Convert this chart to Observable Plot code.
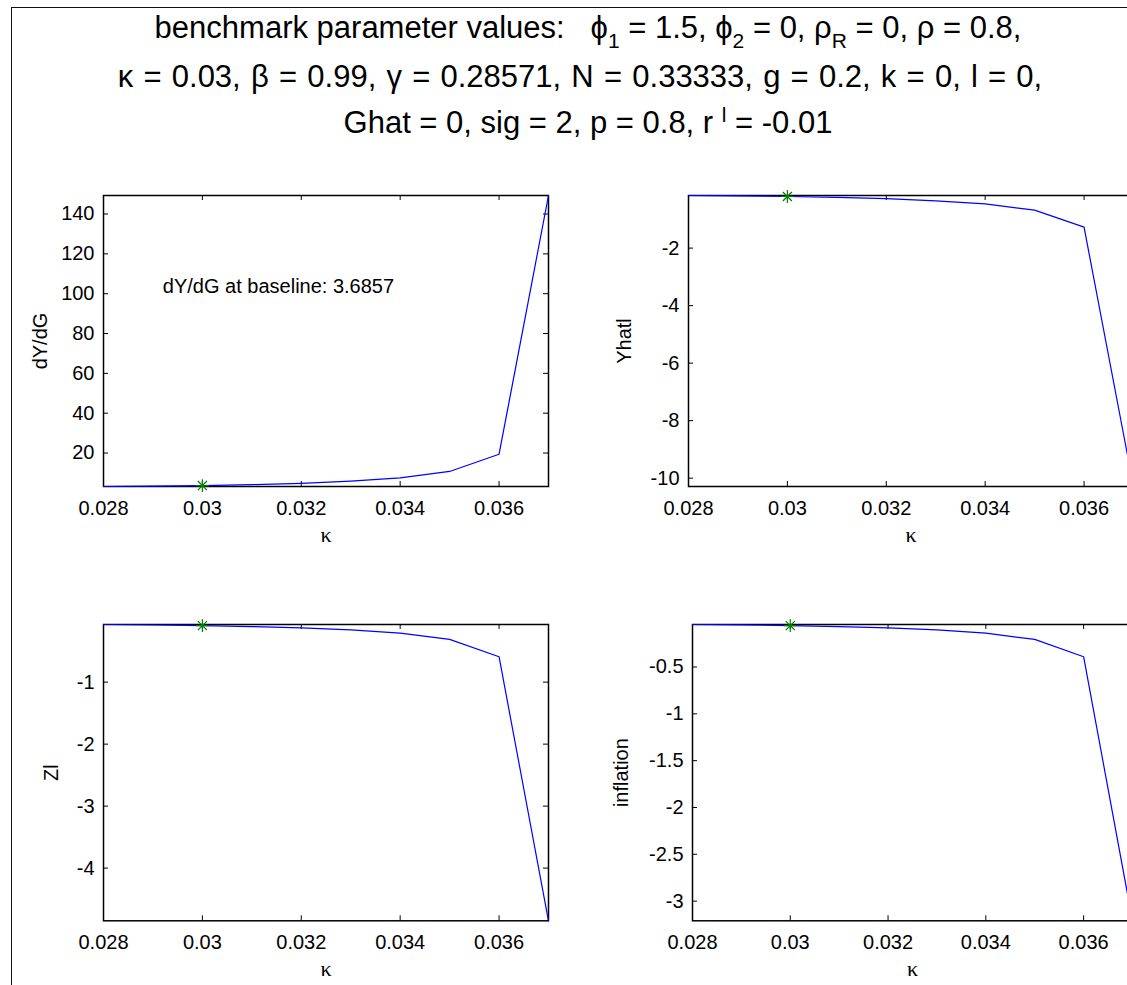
<!DOCTYPE html>
<html><head><meta charset="utf-8">
<script src="https://cdn.jsdelivr.net/npm/d3@7"></script>
<script src="https://cdn.jsdelivr.net/npm/@observablehq/plot@0.6"></script>
<style>
html,body{margin:0;padding:0;background:#fff;overflow:hidden;width:1127px;height:985px;}
#page{position:relative;width:1127px;height:985px;overflow:hidden;font-family:"Liberation Sans",Arial,sans-serif;color:#000;}
#border{position:absolute;left:11px;top:7px;width:1300px;height:1100px;border-left:1.5px solid #111;border-top:1.5px solid #111;}
.title{position:absolute;left:0;width:1176px;text-align:center;font-size:31px;white-space:pre;line-height:34px;}
.sub{font-size:21px;position:relative;top:10px;line-height:0;}
.sup{font-size:21px;position:relative;top:-11px;line-height:0;}
.panel{position:absolute;}
</style></head>
<body><div id="page">
<div id="border"></div>
<div class="title" style="top:11px">benchmark parameter values:   ϕ<span class="sub">1</span> = 1.5, ϕ<span class="sub">2</span> = 0, ρ<span class="sub">R</span> = 0, ρ = 0.8,</div>
<div class="title" style="top:60px;left:-8px;word-spacing:1.6px">κ = 0.03, β = 0.99, γ = 0.28571, N = 0.33333, g = 0.2, k = 0, l = 0,</div>
<div class="title" style="top:106px">Ghat = 0, sig = 2, p = 0.8, r <span class="sup">l</span> = -0.01</div>
</div>
<script>
// ---- data ----
const kappa = [0.028, 0.029, 0.030, 0.031, 0.032, 0.033, 0.034, 0.035, 0.036, 0.037];
const dYdG = [3.2, 3.42, 3.6857, 4.15, 4.8, 5.9, 7.55, 10.75, 19.4, 149.3];
const Yhatl = [-0.17, -0.185, -0.205, -0.237, -0.281, -0.354, -0.464, -0.677, -1.27, -10.29];
const Zl = [-0.07, -0.078, -0.088, -0.103, -0.124, -0.158, -0.21, -0.31, -0.59, -4.85];
const inflation = [-0.046, -0.051, -0.058, -0.068, -0.082, -0.104, -0.139, -0.205, -0.39, -3.21];
const baselineKappa = 0.03;
const xTicks = [0.028, 0.03, 0.032, 0.034, 0.036];
const xDomain = [0.028, 0.037];
const yTicksDYdG = [20, 40, 60, 80, 100, 120, 140];
const yTicksYhatl = [-10, -8, -6, -4, -2];
const yTicksZl = [-4, -3, -2, -1];
const yTicksInfl = [-3, -2.5, -2, -1.5, -1, -0.5];
const annotation = {text: "dY/dG at baseline: 3.6857", k: 0.0292, v: 103.5};

const FONT = "Liberation Sans, Arial, sans-serif";
const ML = 110, MT = 20, MR = 20, MB = 75;

function panel(cfg) {
  const {series, yTicks, label, frame, labelDx, note} = cfg;
  const fw = frame.w, fh = frame.h;
  const data = kappa.map((k, i) => ({k, v: series[i]}));
  const bi = kappa.findIndex(k => Math.abs(k - baselineKappa) < 1e-9);
  const star = [{k: kappa[bi], v: series[bi]}];
  const tl = 5;
  const marks = [
    Plot.frame({stroke: "#000", strokeWidth: 1.5}),
    Plot.tickX(xTicks, {x: d => d, insetBottom: fh - tl, stroke: "#000"}),
    Plot.tickX(xTicks, {x: d => d, insetTop: fh - tl, stroke: "#000"}),
    Plot.tickY(yTicks, {y: d => d, insetRight: fw - tl, stroke: "#000"}),
    Plot.tickY(yTicks, {y: d => d, insetLeft: fw - tl, stroke: "#000"}),
    Plot.axisX(xTicks, {tickSize: 0, tickPadding: 14, tickFormat: d => String(d), label: null, fontSize: 20, fill: "#000"}),
    Plot.axisY(yTicks, {tickSize: 0, tickPadding: 9, tickFormat: d => String(d), label: null, fontSize: 20, fill: "#000"}),
    Plot.line(data, {x: "k", y: "v", stroke: "#0000ff", strokeWidth: 1.2}),
    Plot.dot(star, {x: "k", y: "v", symbol: "plus", r: 4.2, stroke: "#008000", strokeWidth: 1.2}),
    Plot.dot(star, {x: "k", y: "v", symbol: "times", r: 4.2, stroke: "#008000", strokeWidth: 1.2}),
    Plot.text(["κ"], {frameAnchor: "bottom", dy: 55, lineAnchor: "bottom", textAnchor: "middle", fontFamily: "Liberation Serif, Times New Roman, serif", fontSize: 22, fill: "#000"}),
    Plot.text([label], {frameAnchor: "left", dx: labelDx, rotate: -90, textAnchor: "middle", lineAnchor: "bottom", fontSize: 20, fill: "#000"})
  ];
  if (note) marks.push(Plot.text([note], {x: "k", y: "v", text: "text", textAnchor: "start", lineAnchor: "middle", fontSize: 20, fill: "#000"}));
  const p = Plot.plot({
    width: ML + fw + MR, height: MT + fh + MB,
    marginLeft: ML, marginRight: MR, marginTop: MT, marginBottom: MB,
    style: {fontFamily: FONT, fontSize: "20px", background: "transparent", overflow: "visible"},
    x: {domain: xDomain},
    y: {domain: d3.extent(series)},
    marks
  });
  p.classList.add("panel");
  p.style.left = (frame.left - ML) + "px";
  p.style.top = (frame.top - MT) + "px";
  document.getElementById("page").appendChild(p);
}

panel({series: dYdG, yTicks: yTicksDYdG, label: "dY/dG", frame: {left: 102.6, top: 194.7, w: 445, h: 291}, labelDx: -57, note: annotation});
panel({series: Yhatl, yTicks: yTicksYhatl, label: "Yhatl", frame: {left: 688, top: 194.7, w: 445, h: 291}, labelDx: -57.5});
panel({series: Zl, yTicks: yTicksZl, label: "Zl", frame: {left: 102.6, top: 623.7, w: 445, h: 296.3}, labelDx: -46});
panel({series: inflation, yTicks: yTicksInfl, label: "inflation", frame: {left: 692.3, top: 623.7, w: 440, h: 296.3}, labelDx: -64.7});
</script>
</body></html>
